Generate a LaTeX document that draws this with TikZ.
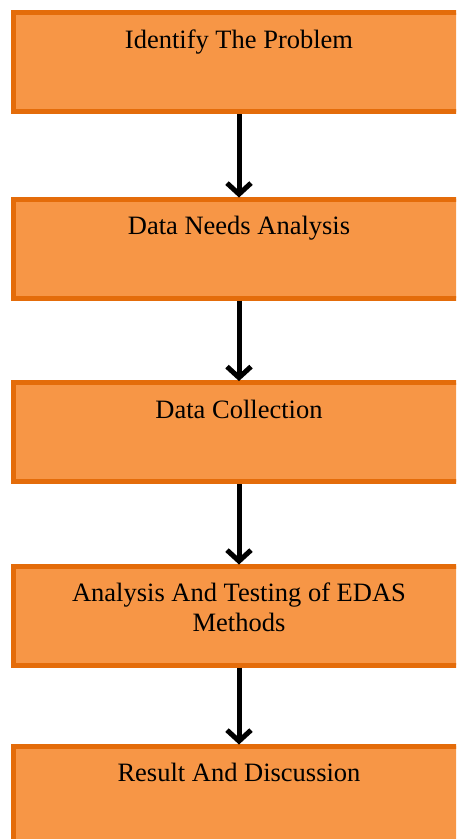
\documentclass[tikz,border=0pt]{standalone}
\usepackage{fontspec}
\setmainfont{Liberation Serif}
\usetikzlibrary{arrows.meta}
\definecolor{boxfill}{HTML}{F79646}
\definecolor{boxline}{HTML}{E46C0A}
\tikzset{
  stagebox/.style={draw=boxline, fill=boxfill, line width=5pt, rectangle,
    minimum width=451pt, minimum height=99pt, inner sep=0pt, anchor=north},
  stagetext/.style={font=\fontsize{26.5}{30}\selectfont, align=center,
    anchor=base, inner sep=0pt, text=black},
  flowarrow/.style={line width=5pt, -{Straight Barb[length=11pt,width=24pt,line width=5pt]},
    shorten >=-1pt}
}
\begin{document}
\begin{tikzpicture}[x=1pt,y=1pt]
\useasboundingbox (0,0) rectangle (456,-839);
\clip (0,0) rectangle (456,-839);
\node[stagebox] (b1) at (239,-10) {};
\node[stagebox] (b2) at (239,-196.5) {};
\node[stagebox] (b3) at (239,-380) {};
\node[stagebox] (b4) at (239,-563.5) {};
\node[stagebox] (b5) at (239,-743.5) {};
\node[stagetext] (t1) at ([yshift=-38pt]b1.north) {Identify The Problem};
\node[stagetext] (t2) at ([yshift=-38pt]b2.north) {Data Needs Analysis};
\node[stagetext] (t3) at ([yshift=-38pt]b3.north) {Data Collection};
\node[stagetext] (t4) at ([yshift=-68pt]b4.north) {Analysis And Testing of EDAS\\Methods};
\node[stagetext] (t5) at ([yshift=-38pt]b5.north) {Result And Discussion};
\draw[flowarrow] (b1.south) -- (b2.north);
\draw[flowarrow] (b2.south) -- (b3.north);
\draw[flowarrow] (b3.south) -- (b4.north);
\draw[flowarrow] (b4.south) -- (b5.north);
\end{tikzpicture}
\end{document}
